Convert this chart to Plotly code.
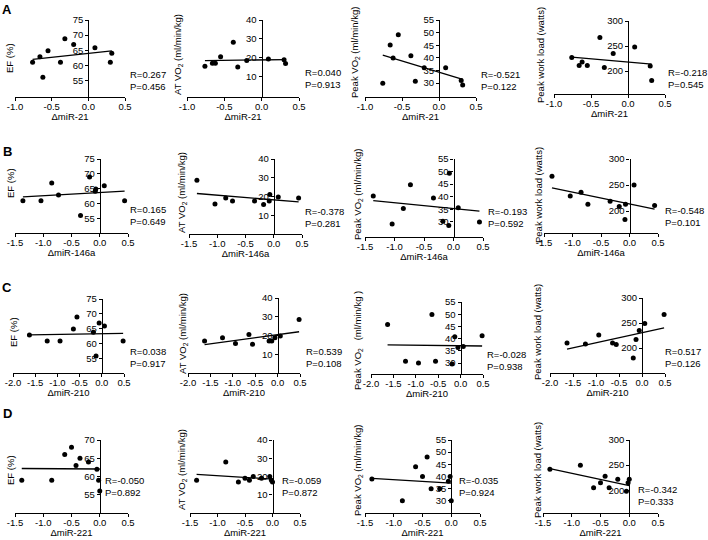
import plotly.graph_objects as go
import numpy as np

W, H = 708, 540
FONT = "Liberation Sans, Arial, sans-serif"
FS = 9.5

# ---------------- data ----------------
mir21 = [-0.76, -0.66, -0.62, -0.55, -0.38, -0.32, -0.20, 0.09, 0.30, 0.32]
mir21_ef = [61.0, 62.8, 56.0, 64.8, 61.0, 68.8, 66.9, 65.8, 61.0, 64.0]
mir21_at = [15.4, 17.0, 17.0, 20.4, 28.2, 15.0, 18.4, 19.3, 18.8, 16.8]
mir21_peak = [29.9, 45.1, 39.9, 49.2, 40.8, 30.7, 36.1, 36.1, 31.0, 29.3]
mir21_load = [227, 211, 218, 211, 267, 207, 235, 248, 210, 181]

mir146 = [-1.36, -1.04, -0.85, -0.73, -0.34, -0.18, -0.08, -0.07, 0.08, 0.44]
mir146_ef = [61.1, 61.1, 67.0, 63.0, 56.1, 69.0, 64.2, 65.0, 66.1, 61.1]
mir146_at = [28.7, 16.0, 19.2, 17.6, 17.6, 15.7, 17.6, 21.0, 19.7, 19.2]
mir146_peak = [40.3, 29.2, 35.3, 44.8, 39.5, 30.3, 28.6, 49.3, 35.6, 30.0]
mir146_load = [267, 229, 236, 213, 219, 209, 184, 213, 250, 211]

mir210 = [-1.63, -1.23, -0.94, -0.64, -0.56, -0.19, -0.13, -0.06, 0.06, 0.48]
mir210_ef = [63.0, 61.0, 61.0, 65.0, 69.0, 63.9, 56.0, 67.0, 66.0, 61.0]
mir210_at = [17.1, 18.8, 15.7, 20.6, 15.3, 17.1, 17.1, 18.8, 19.7, 28.5]
mir210_peak = [45.8, 30.7, 30.0, 49.9, 30.7, 29.6, 40.8, 36.4, 36.8, 41.2]
mir210_load = [210, 208, 226, 210, 207, 180, 217, 235, 249, 267]

mir221 = [-1.38, -0.85, -0.62, -0.50, -0.42, -0.35, -0.20, -0.05, -0.02, 0.0]
mir221_ef = [59.0, 59.0, 66.0, 68.0, 63.0, 65.0, 64.0, 62.0, 59.0, 56.0]
mir221_at = [18.0, 28.0, 17.0, 19.0, 18.0, 20.0, 19.0, 20.0, 18.0, 17.0]
mir221_peak = [39.0, 30.0, 44.0, 40.0, 48.0, 35.0, 35.0, 38.0, 40.0, 30.0]
mir221_load = [242, 250, 205, 215, 228, 205, 222, 198, 215, 222]

x_titles = ["\u0394miR-21", "\u0394miR-146a", "\u0394miR-210", "\u0394miR-221"]
stats = [
    ["R=0.267<br>P=0.456", "R=0.040<br>P=0.913", "R=-0.521<br>P=0.122", "R=-0.218<br>P=0.545"],
    ["R=0.165<br>P=0.649", "R=-0.378<br>P=0.281", "R=-0.193<br>P=0.592", "R=-0.548<br>P=0.101"],
    ["R=0.038<br>P=0.917", "R=0.539<br>P=0.108", "R=-0.028<br>P=0.938", "R=0.517<br>P=0.126"],
    ["R=-0.050<br>P=0.892", "R=-0.059<br>P=0.872", "R=-0.035<br>P=0.924", "R=-0.342<br>P=0.333"],
]
y_titles = [
    ["EF (%)", "AT VO<sub>2</sub> (ml/min/kg)", "Peak VO<sub>2</sub> (ml/min/kg)", "Peak work load (watts)"],
    ["EF (%)", "AT VO<sub>2</sub> (ml/min/kg)", "Peak VO<sub>2</sub> (ml/min/kg)", "Peak work load (watts)"],
    ["EF (%)", "AT VO<sub>2</sub> (ml/min/kg)", "Peak VO<sub>2</sub>\u00a0\u00a0\u00a0(ml/min/kg\u00a0)", "Peak work load (watts)"],
    ["EF (%)", "AT VO<sub>2</sub> (ml/min/kg)", "Peak VO<sub>2</sub> (ml/min/kg)", "Peak work load (watts)"],
]
y_ticks = [
    [[55, 60, 65, 70, 75], [10, 20, 30, 40], [30, 35, 40, 45, 50, 55], [200, 250, 300]],
    [[55, 60, 65, 70, 75], [10, 20, 30, 40], [30, 35, 40, 45, 50, 55], [200, 250, 300]],
    [[55, 60, 65, 70, 75], [10, 20, 30, 40], [30, 35, 40, 45, 50, 55], [200, 250, 300]],
    [[55, 60, 65, 70], [10, 20, 30, 40], [30, 35, 40, 45, 50, 55], [200, 250, 300]],
]
x_ticks = [
    [-1.0, -0.5, 0.0, 0.5],
    [-1.5, -1.0, -0.5, 0.0, 0.5],
    [-2.0, -1.5, -1.0, -0.5, 0.0, 0.5],
    [-1.5, -1.0, -0.5, 0.0, 0.5],
]
xs = [mir21, mir146, mir210, mir221]
ys = [
    [mir21_ef, mir21_at, mir21_peak, mir21_load],
    [mir146_ef, mir146_at, mir146_peak, mir146_load],
    [mir210_ef, mir210_at, mir210_peak, mir210_load],
    [mir221_ef, mir221_at, mir221_peak, mir221_load],
]
row_letters = ["A", "B", "C", "D"]

# ---------------- geometry (pixels) ----------------
# (x0, x1, ytop, ybot, ymin, ymax)
geom = [
    [(15, 125, 20, 97, 49.5, 75), (187, 299, 20, 97, -1, 40), (365, 476, 20, 97, 24.5, 55), (554, 665, 21, 94, 154, 300)],
    [(15, 128, 159, 233, 50.3, 75), (189, 302, 159, 234, 0, 40), (365, 483, 159, 237, 24, 55), (544, 658, 159, 233, 158, 300)],
    [(13, 124, 299, 373, 50.3, 75), (188, 300, 298, 373, 0, 40), (371, 483, 302, 374, 25.5, 55), (550, 665, 298, 373, 150, 300)],
    [(15, 128, 440, 513, 50, 70), (190, 300, 440, 513, 0, 40), (365, 480, 440, 513, 25, 55), (543, 658, 440, 513, 155, 300)],
]
x_ranges = [(-1.0, 0.5), (-1.5, 0.5), (-2.0, 0.5), (-1.5, 0.5)]
stat_pos = [
    [(128, 80), (303, 79), (479, 80), (666, 79)],
    [(128, 215), (303, 217), (486, 217), (663, 216)],
    [(128, 357), (304, 357), (485, 360), (663, 357)],
    [(103, 486), (280, 486), (457, 486), (636, 495)],
]
ytitle_pos = [
    [(10, 58), (178, 55), (355, 52), (540, 55)],
    [(10, 183), (182, 193), (358, 194), (538, 195)],
    [(13, 332), (183, 333), (358, 340), (537, 332)],
    [(10, 470), (182, 470), (358, 470), (537, 470)],
]
letter_pos = [(7, 10), (7, 151), (7, 287), (7, 413)]


def px(x):
    return x / W


def py(y):
    return 1 - y / H


fig = go.Figure()
annotations = []
k = 0
for r in range(4):
    xr = x_ranges[r]
    for c in range(4):
        k += 1
        x0, x1, ytop, ybot, ymin, ymax = geom[r][c]
        xv = np.array(xs[r], dtype=float)
        yv = np.array(ys[r][c], dtype=float)
        xa = "x" if k == 1 else f"x{k}"
        ya = "y" if k == 1 else f"y{k}"
        fig.add_trace(go.Scatter(x=xv, y=yv, mode="markers", xaxis=xa, yaxis=ya,
                                 marker=dict(color="black", size=5), showlegend=False,
                                 cliponaxis=False, hoverinfo="skip"))
        m, b = np.polyfit(xv, yv, 1)
        lx = np.array([xv.min(), xv.max()])
        fig.add_trace(go.Scatter(x=lx, y=m * lx + b, mode="lines", xaxis=xa, yaxis=ya,
                                 line=dict(color="black", width=1.3), showlegend=False,
                                 cliponaxis=False, hoverinfo="skip"))
        yax_x = x0 + (0 - xr[0]) / (xr[1] - xr[0]) * (x1 - x0)
        xname = "xaxis" if k == 1 else f"xaxis{k}"
        yname = "yaxis" if k == 1 else f"yaxis{k}"
        fig.update_layout(**{
            xname: dict(domain=[px(x0), px(x1)], range=list(xr), anchor=ya,
                        tickvals=x_ticks[r], ticktext=[f"{v:.1f}" for v in x_ticks[r]],
                        showline=True, linecolor="black", linewidth=1.2,
                        ticks="outside", ticklen=3, tickwidth=1, tickcolor="black",
                        ticklabelstandoff=-3,
                        showgrid=False, zeroline=False, automargin=False,
                        tickfont=dict(size=FS, color="black", family=FONT),
                        title=dict(text=x_titles[r], standoff=0,
                                   font=dict(size=FS, color="black", family=FONT))),
            yname: dict(domain=[py(ybot), py(ytop)], range=[ymin, ymax], anchor="free",
                        position=px(yax_x), tickvals=y_ticks[r][c],
                        showline=True, linecolor="black", linewidth=1.2,
                        ticks="outside", ticklen=3, tickwidth=1, tickcolor="black",
                        showgrid=False, zeroline=False, automargin=False,
                        tickfont=dict(size=FS, color="black", family=FONT)),
        })
        sx, sy = stat_pos[r][c]
        annotations.append(dict(text=stats[r][c], x=px(sx), y=py(sy), xref="paper", yref="paper",
                                xanchor="left", yanchor="middle", showarrow=False, align="left",
                                font=dict(size=FS, color="black", family=FONT)))
        tx, ty = ytitle_pos[r][c]
        annotations.append(dict(text=y_titles[r][c], x=px(tx), y=py(ty), xref="paper", yref="paper",
                                xanchor="center", yanchor="middle", showarrow=False, textangle=-90,
                                font=dict(size=FS, color="black", family=FONT)))
    lx_, ly_ = letter_pos[r]
    annotations.append(dict(text=f"<b>{row_letters[r]}</b>", x=px(lx_), y=py(ly_), xref="paper",
                            yref="paper", xanchor="center", yanchor="middle", showarrow=False,
                            font=dict(size=13, color="black", family=FONT)))

fig.update_layout(width=W, height=H, margin=dict(l=0, r=0, t=0, b=0),
                  paper_bgcolor="white", plot_bgcolor="white",
                  annotations=annotations, font=dict(family=FONT, color="black"))
fig.write_html("out.html", config={"displayModeBar": False},
               post_script="document.body.style.margin='0px';")
